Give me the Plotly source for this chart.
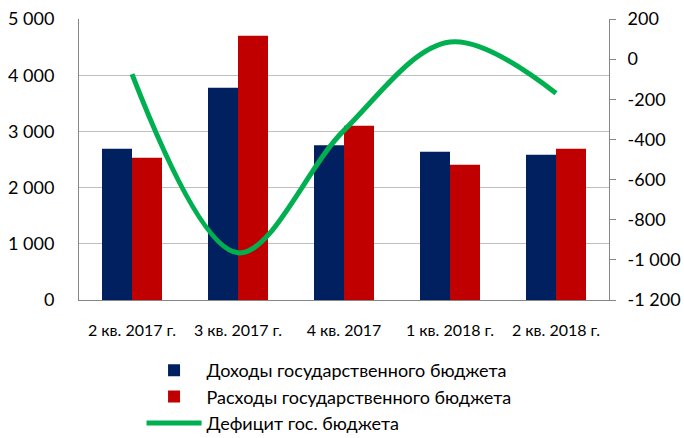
import plotly.graph_objects as go

categories = ["2 кв. 2017 г.", "3 кв. 2017 г.", "4 кв. 2017", "1 кв. 2018 г.", "2 кв. 2018 г."]
income = [2690, 3775, 2755, 2640, 2585]
expenses = [2530, 4700, 3100, 2405, 2690]
deficit = [-75, -965, -355, 85, -170]

left_ticks = [0, 1000, 2000, 3000, 4000, 5000]
left_labels = ["0", "1 000", "2 000", "3 000", "4 000", "5 000"]
right_ticks = [-1200, -1000, -800, -600, -400, -200, 0, 200]
right_labels = ["-1 200", "-1 000", "-800", "-600", "-400", "-200", "0", "200"]

font = "Lato"
fig = go.Figure()
fig.add_trace(go.Bar(x=categories, y=income, name="Доходы государственного бюджета",
                     marker=dict(color="#002060", line=dict(width=0))))
fig.add_trace(go.Bar(x=categories, y=expenses, name="Расходы государственного бюджета",
                     marker=dict(color="#C00000", line=dict(width=0))))
fig.add_trace(go.Scatter(x=categories, y=deficit, name="Дефицит гос. бюджета", yaxis="y2",
                         mode="lines", line=dict(color="#00B050", width=5, shape="spline", smoothing=1.0)))

fig.update_layout(
    width=684, height=438,
    margin=dict(l=79, r=75, t=19, b=138, autoexpand=False),
    paper_bgcolor="white", plot_bgcolor="white",
    barmode="group", bargap=0.434, bargroupgap=0,
    font=dict(family=font, color="#000000"),
    showlegend=True,
    legend=dict(x=0.118, y=-0.185, xanchor="left", yanchor="top", orientation="v",
                font=dict(size=18, family=font), tracegroupgap=0, itemwidth=55,
                traceorder="normal"),
    xaxis=dict(showline=True, linecolor="#868686", linewidth=1, ticks="", automargin=False,
               tickfont=dict(size=16, family=font), ticklabelstandoff=16),
    yaxis=dict(range=[0, 5000], tickvals=left_ticks, ticktext=left_labels, showgrid=True,
               gridcolor="#BFBFBF", automargin=False,
               showline=True, linecolor="#868686", ticks="",
               tickfont=dict(size=18, family=font), ticklabelstandoff=20, zeroline=False),
    yaxis2=dict(range=[-1200, 200], tickvals=right_ticks, ticktext=right_labels,
                overlaying="y", side="right", automargin=False,
                showgrid=False, showline=True, linecolor="#868686", ticks="outside",
                ticklen=6, tickcolor="#868686", zeroline=False,
                tickfont=dict(size=18, family=font), ticklabelstandoff=8),
)
fig.write_html("out.html", config={"displayModeBar": False},
               post_script="document.body.style.margin='0';document.body.style.overflow='hidden';")
